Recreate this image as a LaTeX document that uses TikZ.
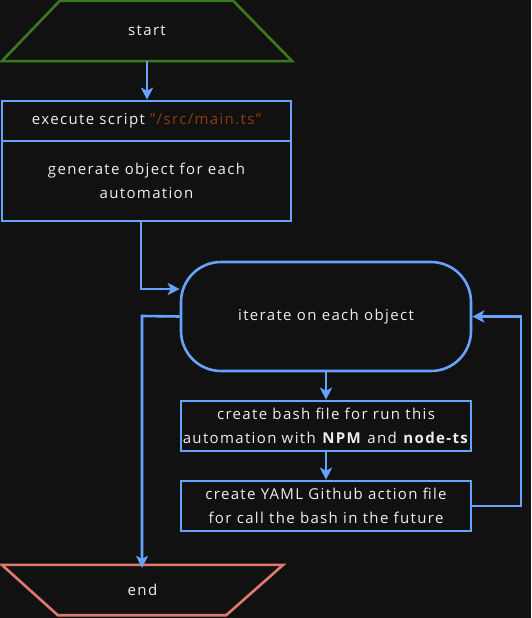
\documentclass[tikz,border=0pt]{standalone}
\usepackage{fontspec}
\setmainfont{Open Sans}[LetterSpace=9]
\usetikzlibrary{arrows.meta}
\definecolor{bg}{HTML}{111111}
\definecolor{bl}{HTML}{66A3FF}
\definecolor{gr}{HTML}{3A7A1F}
\definecolor{sa}{HTML}{E0796F}
\definecolor{tx}{HTML}{EEEEEE}
\definecolor{br}{HTML}{8A3D0A}
\tikzset{
  box/.style={draw=bl,line width=2.6pt,rectangle,inner sep=0pt,align=center,text=tx,font=\fontsize{15}{24}\selectfont},
  ghost/.style={rectangle,inner sep=0pt,text=tx,font=\fontsize{15}{24}\selectfont},
  arr/.style={draw=bl,line width=2.6pt,-{Stealth[length=12pt,width=12pt,inset=3pt]}},
}
\begin{document}
\begin{tikzpicture}[x=1pt,y=-1pt]
\useasboundingbox[fill=bg] (0,0) rectangle (531,618);
% start
\node[ghost,minimum width=290,minimum height=60] (start) at (147,31) {start};
\draw[gr,line width=2.6pt,line join=miter] (start.south west) -- (start.south east) -- ([xshift=-59pt]start.north east) -- ([xshift=58pt]start.north west) -- cycle;
% execute
\node[box,minimum width=289,minimum height=40] (exec) at (146.5,121) {execute script \textcolor{br}{"/src/main.ts"}};
\node[box,minimum width=289,minimum height=80] (gen) at (146.5,181) {generate object for each\\automation};
% iterate
\node[box,rounded corners=40pt,minimum width=290,minimum height=109] (iter) at (326,316.5) {iterate on each object};
\node[box,minimum width=290,minimum height=50] (b1) at (326,426) {create bash file for run this\\automation with \textbf{NPM} and \textbf{node-ts}};
\node[box,minimum width=290,minimum height=50] (b2) at (326,506) {create YAML Github action file\\for call the bash in the future};
% end
\node[ghost,minimum width=281,minimum height=50] (end) at (142.5,590) {end};
\draw[sa,line width=2.6pt,line join=miter] (end.north west) -- (end.north east) -- ([xshift=-57pt]end.south east) -- ([xshift=56pt]end.south west) -- cycle;
% connectors
\coordinate (j1) at (141,289);
\coordinate (j2) at (142,316);
\coordinate (j3) at (521,506);
\draw[arr] (start.south) -- (exec.north -| start.south);
\draw[arr] (gen.south -| j1) |- (iter.west |- j1);
\draw[arr] (iter.west) -- (j2) -- ([yshift=-3pt]end.north -| j2);
\draw[arr] (iter.south) -- (b1.north);
\draw[arr] (b1.south) -- (b2.north);
\draw[arr] (b2.east) -- (j3) |- (iter.east);
\end{tikzpicture}
\end{document}
